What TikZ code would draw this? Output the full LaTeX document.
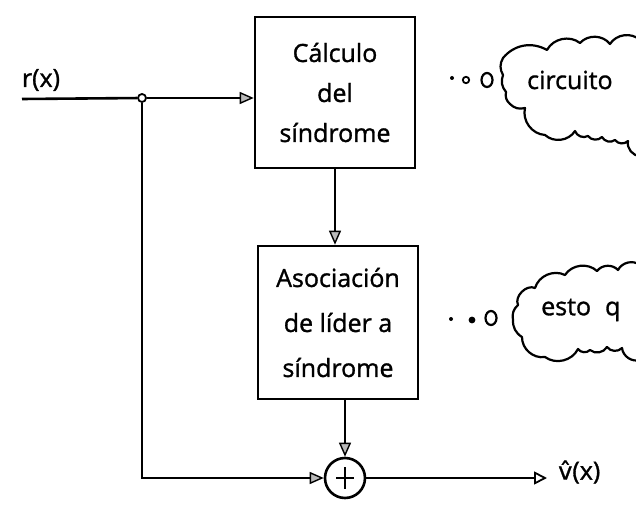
\documentclass[tikz,border=0pt]{standalone}
\usepackage{fontspec}
\setmainfont{Open Sans}[FakeBold=1.2]
\newfontfamily\djv{DejaVu Sans}[FakeBold=0.8]
\usetikzlibrary{arrows.meta,calc}
\begin{document}
\begin{tikzpicture}[x=1pt,y=-1pt]
\tikzset{
  blk/.style={draw, line width=2.6pt, minimum width=160pt, align=center, inner sep=0pt},
  wire/.style={line width=2.6pt},
  arr/.style={wire, -{Triangle[length=14pt, width=12pt, fill=gray!55, line width=1.4pt]}},
  oarr/.style={wire, -{Triangle[open, length=13pt, width=13pt, line width=1.8pt]}},
  lbl/.style={font=\fontsize{25}{28}\selectfont},
  cloudline/.style={line width=2.2pt, line join=round},
  bump/.style={bend left=50},
}
\useasboundingbox (0,0) rectangle (636,518);
\clip (0,0) rectangle (636,518);

% blocks
\node[blk, minimum height=151pt, font=\fontsize{25}{40}\selectfont] (calc) at (335,92.5) {Cálculo\\del\\síndrome};
\node[blk, minimum height=153pt, font=\fontsize{25}{45}\selectfont] (asoc) at (338,322.5) {Asociación\\de líder a\\síndrome};

% summing junction
\node[circle, draw, line width=2.6pt, minimum size=40pt, inner sep=0pt] (sum) at (345,478) {};
\draw[line width=2.8pt] ($(sum.center)+(0,-11)$) -- ($(sum.center)+(0,11)$);
\draw[line width=2.8pt] ($(sum.center)+(-9,0)$) -- ($(sum.center)+(9,0)$);

% input and labels
\coordinate (in) at (22,99);
\node[circle, draw, fill=white, line width=1.8pt, inner sep=0pt, minimum size=8pt] (j) at (142,98) {};
\node[lbl] (r) at (41,80) {r(x)};
\node[lbl, anchor=west, inner xsep=11pt] (out) at (547,472) {{\djv\fontsize{24}{28}\selectfont\^{v}}(x)};

% connectors
\draw[wire] (in) -- (j);
\draw[arr] (j) -- (calc.west |- j);
\draw[arr] (calc.south) -- (calc.south |- asoc.north);
\draw[arr] (asoc.south -| sum.north) -- (sum.north);
\draw[arr] (j) -- (j |- sum) -- (sum.west);
\draw[oarr] (sum.east) -- (sum.east -| out.west);

% thought bubbles 1
\fill (452,78) circle[radius=2pt];
\draw[line width=1.8pt] (466,80) circle[radius=3.2pt];
\draw[line width=2.2pt] (487,80) ellipse[x radius=5.5pt, y radius=7pt];
\draw[cloudline] (640,156) to[bump] (628,141) to[bump] (615,140) to[bump] (602,137)
  to[bump] (588,136) to[bump] (575,131) to[bump] (545,135) to[bump] (525,108)
  to[bend left=30] (510,104) to[bend left=30] (506,92) to[bend left=30] (503,75)
  to[bend left=30] (503,58) to[bend left=40] (547,50) to[bump] (580,43)
  to[bump] (610,44) to[bump] (640,40);
\node[lbl, anchor=west, inner sep=0pt] (c1) at (527,80) {circuito};

% thought bubbles 2
\fill (451,319) circle[radius=2pt];
\fill (472,320) circle[radius=3.4pt];
\draw[line width=2.2pt] (491,318) ellipse[x radius=5.5pt, y radius=7pt];
\draw[cloudline] (640,360) to[bump] (622,348) to[bump] (607,347) to[bump] (590,350)
  to[bump] (578,349) to[bump] (545,357) to[bump] (522,337)
  to[bend left=30] (513,320) to[bend left=30] (518,305) to[bend left=70] (535,288)
  to[bump] (565,275) to[bump] (597,271) to[bump] (618,270) to[bump] (640,265);
\node[lbl, anchor=west, inner sep=0pt] (c2) at (541,310) {esto\hspace{14pt}q};
\end{tikzpicture}
\end{document}
